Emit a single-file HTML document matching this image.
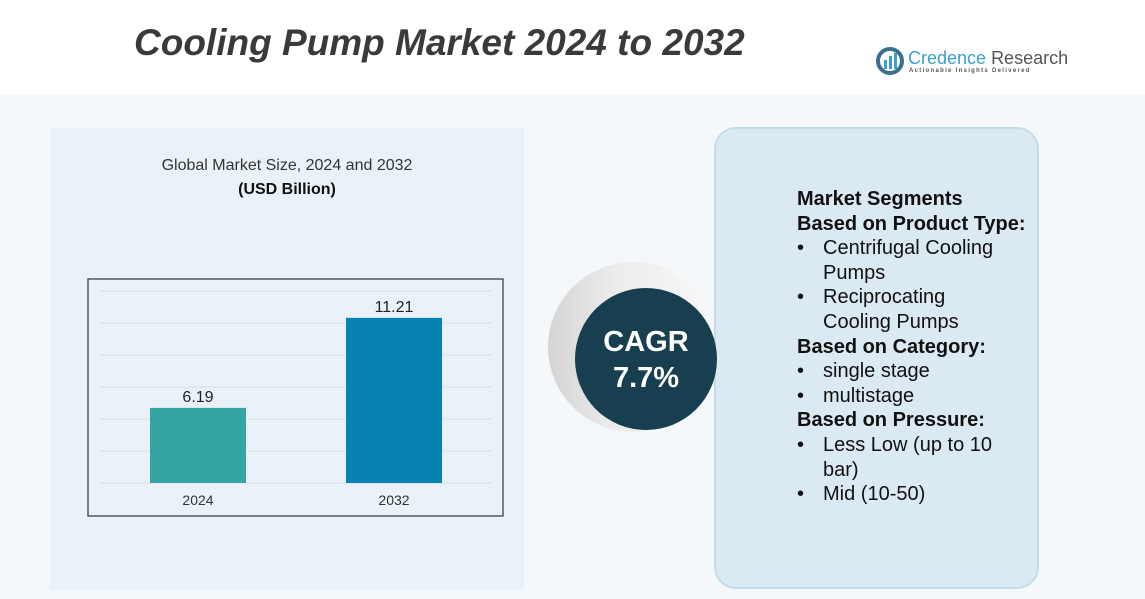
<!DOCTYPE html>
<html><head><meta charset="utf-8">
<style>
body{margin:0;width:1145px;height:599px;background:#fff;position:relative;overflow:hidden;font-family:"Liberation Sans",sans-serif}
.abs{position:absolute}
.seg div{white-space:nowrap}
.b{display:inline-block;width:26px}
.ind{padding-left:26px}
</style></head><body>
<div class="abs" style="left:0;top:95px;width:1145px;height:504px;background:#f4f8fb"></div>
<div class="abs" style="left:50px;top:128px;width:474px;height:462px;background:#e9f2f8"></div>
<div class="abs" style="left:134px;top:22px;font-size:37px;font-weight:bold;font-style:italic;color:#3a3a3a">Cooling Pump Market 2024 to 2032</div>
<div class="abs" style="left:876px;top:47px;width:180px;height:30px">
<svg width="28" height="28" style="position:absolute;left:0;top:0"><circle cx="14" cy="14" r="12" fill="none" stroke="#3a6f8f" stroke-width="4"/><rect x="8" y="13" width="3" height="9" fill="#3aa0c8"/><rect x="13" y="9" width="3" height="13" fill="#3aa0c8"/><rect x="18" y="6" width="3" height="16" fill="#3aa0c8"/></svg>
<div class="abs" style="left:32px;top:1px;font-size:18px;color:#3aa0c8;white-space:nowrap">Credence <span style="color:#555">Research</span></div>
<div class="abs" style="left:33px;top:21px;font-size:6px;letter-spacing:1.3px;color:#555;white-space:nowrap;font-weight:bold">Actionable Insights Delivered</div>
</div>
<div class="abs" style="left:50px;width:474px;top:157px;text-align:center;font-size:16px;color:#333">Global Market Size, 2024 and 2032</div>
<div class="abs" style="left:50px;width:474px;top:181px;text-align:center;font-size:16px;font-weight:bold;color:#111">(USD Billion)</div>
<svg class="abs" id="chart" style="left:0;top:0" width="1145" height="599"></svg>
<div class="abs" style="left:548px;top:262px;width:170px;height:170px;border-radius:50%;background:linear-gradient(90deg,#d4d4d4 0%,#ececec 40%,#f8f8f8 100%)"></div>
<div class="abs" style="left:714px;top:127px;width:325px;height:462px;background:#dbe9f3;border:2px solid #c5dbe8;border-radius:22px;box-sizing:border-box"></div>
<div class="abs" style="left:575px;top:288px;width:142px;height:142px;border-radius:50%;background:#173f4f;color:#fff;text-align:center;font-size:29px;font-weight:bold;line-height:36px;box-sizing:border-box;padding-top:36px">CAGR<br>7.7%</div>
<div class="abs seg" style="left:797px;top:187px;font-size:20px;color:#111;line-height:24.6px">
<div style="font-weight:bold">Market Segments</div>
<div style="font-weight:bold">Based on Product Type:</div>
<div><span class="b">•</span>Centrifugal Cooling</div>
<div class="ind">Pumps</div>
<div><span class="b">•</span>Reciprocating</div>
<div class="ind">Cooling Pumps</div>
<div style="font-weight:bold">Based on Category:</div>
<div><span class="b">•</span>single stage</div>
<div><span class="b">•</span>multistage</div>
<div style="font-weight:bold">Based on Pressure:</div>
<div><span class="b">•</span>Less Low (up to 10</div>
<div class="ind">bar)</div>
<div><span class="b">•</span>Mid (10-50)</div>
</div>
<script>
const categories=["2024","2032"];
const values=[6.19,11.21];
const valueLabels=["6.19","11.21"];
const colors=["#35a4a4","#0783b3"];
const svg=document.getElementById('chart');
const NS="http://www.w3.org/2000/svg";
const x0=88,x1=503,y0=279,y1=516,base=483,yMin=2,pxPerUnit=17.93;
function yS(v){return base-(v-yMin)*pxPerUnit;}
function xC(i){return 198+i*196;}
function mk(t,a){const e=document.createElementNS(NS,t);for(const k in a)e.setAttribute(k,a[k]);svg.appendChild(e);return e;}
const frame=mk('rect',{x:x0,y:y0,width:x1-x0,height:y1-y0,fill:'none',stroke:'#333','stroke-width':1.2});


for(let k=0;k<7;k++){const y=base-k*32;const g=mk('line',{x1:100,x2:491,y1:y,y2:y,stroke:'#d6dde2','stroke-width':1});

}
categories.forEach((c,i)=>{
const y=yS(values[i]);
const b=mk('rect',{x:xC(i)-48,y:y,width:96,height:base-y,fill:colors[i]});


const t=mk('text',{x:xC(i),y:y-6,'text-anchor':'middle','font-size':16,fill:'#222','font-family':'Liberation Sans'});t.textContent=valueLabels[i];


const l=mk('text',{x:xC(i),y:505,'text-anchor':'middle','font-size':14,fill:'#333','font-family':'Liberation Sans'});l.textContent=c;


});
</script>
</body></html>
